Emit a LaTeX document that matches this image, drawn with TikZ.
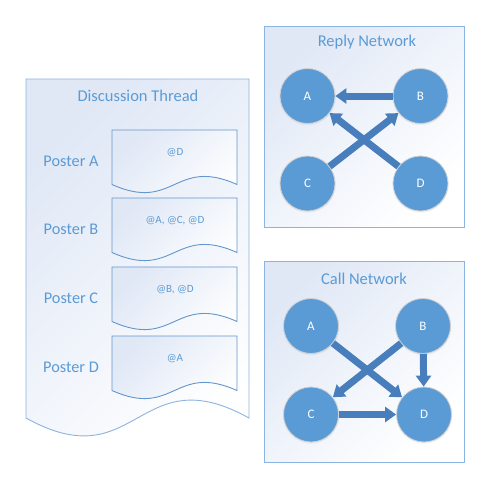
\documentclass[tikz,border=0pt]{standalone}
\usepackage{fontspec}
\setmainfont{Carlito}
\usetikzlibrary{arrows.meta,shadows}
\definecolor{ttl}{RGB}{91,155,213}
\definecolor{edgec}{RGB}{100,150,205}
\definecolor{boxedge}{RGB}{140,180,225}
\definecolor{bgc}{RGB}{224,232,246}
\definecolor{nodefill}{RGB}{91,155,213}
\definecolor{arr}{RGB}{72,126,187}
\begin{document}
\begin{tikzpicture}[x=1pt,y=-1pt,
  panel/.style={draw=boxedge, line width=0.9pt, top color=bgc, bottom color=white, shading angle=45},
  docbox/.style={draw=edgec, line width=0.9pt, top color=bgc, bottom color=white, shading angle=45},
  ttlnode/.style={text=ttl, inner sep=0pt, font=\fontsize{16.5}{19}\selectfont},
  poster/.style={text=ttl, inner sep=0pt, font=\fontsize{16.3}{19}\selectfont},
  msg/.style={text=ttl, inner sep=0pt, font=\fontsize{11}{13}\selectfont},
  vert/.style={circle, fill=nodefill, draw=black!18, line width=0.8pt, minimum size=55pt, inner sep=0pt, text=white, font=\fontsize{13}{15}\selectfont, circular drop shadow={shadow xshift=0pt, shadow yshift=-0.8pt, shadow scale=1.04, opacity=0.25}},
  link/.style={draw=arr, line width=7pt, -{Triangle[width=15pt,length=11pt]}}
]
\useasboundingbox (0,0) rectangle (498,488);
\fill[white] (0,0) rectangle (498,488);

% Discussion thread
\path[panel] (26,79) -- (249,79) -- (249,418) .. controls (137.5,356) and (137.5,480) .. (26,418) -- cycle;
\node[ttlnode] (thr) at (138,96) {Discussion Thread};
\foreach \T/\nm/\txt/\who in {130/a/{@D}/A, 198/b/{@A, @C, @D}/B, 267/c/{@B, @D}/C, 336/d/{@A}/D}{
  \path[docbox] (112,\T) -- (237,\T) -- (237,\T+54.5) .. controls (174.5,\T+26.5) and (174.5,\T+82.5) .. (112,\T+54.5) -- cycle;
  \node[msg] (m\nm) at (175,\T+23) {\txt};
  \node[poster] (p\nm) at (71,\T+31) {Poster \who};
}

% Reply network
\path[panel] (264,26) rectangle (464,227);
\node[ttlnode] (rt) at (367,42) {Reply Network};
\node[vert] (rA) at (307.5,96) {A};
\node[vert] (rB) at (420.5,96) {B};
\node[vert] (rC) at (307.5,183.5) {C};
\node[vert] (rD) at (420.5,183.5) {D};
\draw[link] (rB) -- (rA);
\draw[link] (rC) -- (rB);
\draw[link] (rD) -- (rA);

% Call network
\path[panel] (264,261) rectangle (464,462);
\node[ttlnode] (ct) at (364,279) {Call Network};
\node[vert] (cA) at (311,326) {A};
\node[vert] (cB) at (423,326) {B};
\node[vert] (cC) at (311,414.5) {C};
\node[vert] (cD) at (424,414.5) {D};
\draw[link] (cA) -- (cD);
\draw[link] (cB) -- (cC);
\draw[link] (cB) -- (cD);
\draw[link] (cC) -- (cD);
\end{tikzpicture}
\end{document}
